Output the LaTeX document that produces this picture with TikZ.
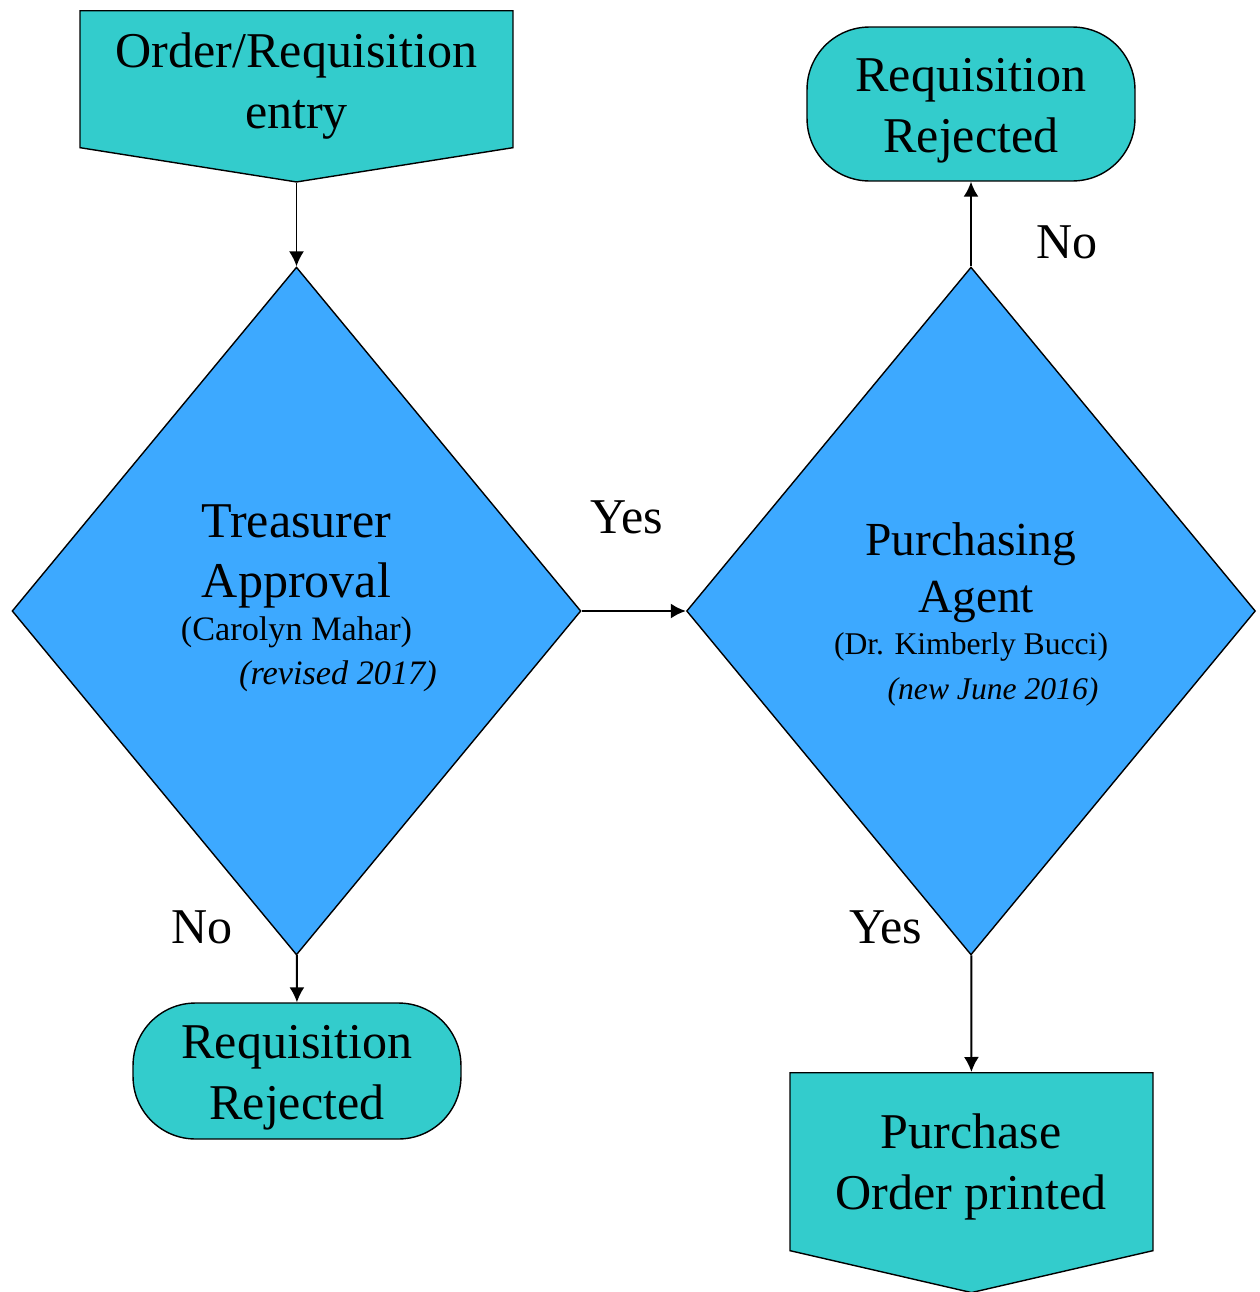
\documentclass[tikz,border=0pt]{standalone}
\usepackage{fontspec}
\setmainfont{Liberation Serif}
\usepackage{xcolor}
\usepackage{tikz}
\usetikzlibrary{positioning,shapes.geometric,shapes.symbols,arrows.meta}
\definecolor{boxcyan}{RGB}{51,204,204}
\definecolor{diamondblue}{RGB}{61,169,255}

\begin{document}
\begin{tikzpicture}[x=0.02cm, y=-0.02cm,
  decision/.style={diamond, draw=black, line width=0.8pt, fill=diamondblue, inner sep=0pt, minimum width=11.38cm, minimum height=13.76cm},
  endnode/.style={rectangle, rounded corners=1.25cm, draw=black, line width=0.8pt, fill=boxcyan, minimum width=6.56cm},
  docnode/.style={signal, signal to=south, draw=black, line width=0.8pt, fill=boxcyan, inner sep=0pt},
  bigtext/.style={align=center, font=\fontsize{28.5}{34.5}\selectfont, inner sep=0pt},
  flow/.style={->, line width=1.1pt},
  >={Latex[length=0.3cm, width=0.3cm]}]

\useasboundingbox (0,0) rectangle (1259,1292);

\node[docnode, signal pointer angle=162, minimum width=8.66cm, minimum height=2.74cm, anchor=north] at (296.5,10) (entry) {};
\node[decision] at (296.5,611) (treas) {};
\node[decision] at (971,611) (agent) {};
\node[endnode, minimum height=3.08cm] at (971,104) (rejTop) {};
\node[endnode, minimum height=2.72cm] at (297,1071) (rejLeft) {};
\node[docnode, signal pointer angle=154, minimum width=7.26cm, minimum height=3.56cm, anchor=north] at (971.5,1072) (order) {};

\node[bigtext] at (296.5,86) (entryText) {Order/Requisition\\entry};
\node[bigtext] at (971,111) (rejTopText) {Requisition\\Rejected};
\node[bigtext] at (297,1078) (rejLeftText) {Requisition\\Rejected};
\node[bigtext] at (971,1167) (orderText) {Purchase\\Order printed};

\node[bigtext] at (296.5,598) (treasText) {Treasurer\\Approval\\[-10.2pt]{\fontsize{19.5}{23}\selectfont (Carolyn Mahar)}\\[-9.7pt]\hspace*{1.66cm}{\fontsize{19.5}{23}\selectfont\itshape (revised 2017)}};
\node[bigtext, font=\fontsize{27}{32.4}\selectfont] at (971,614) (agentText) {Purchasing\\\hspace*{0.2cm}Agent\\[-8.5pt]{\fontsize{18}{22}\selectfont (Dr. Kimberly Bucci)}\\[-6.8pt]\hspace*{0.88cm}{\fontsize{18}{22}\selectfont\itshape (new June 2016)}};

\node[bigtext] at (627,517) (yesRight) {Yes};
\node[bigtext] at (1067,242) (noTop) {No};
\node[bigtext] at (202,927) (noLeft) {No};
\node[bigtext] at (886,927) (yesDown) {Yes};

\draw[flow] (entry) -- (treas);
\draw[flow] (treas) -- (agent);
\draw[flow] (agent) -- (rejTop);
\draw[flow] (treas) -- (rejLeft);
\draw[flow] (agent) -- (order);

\end{tikzpicture}
\end{document}
